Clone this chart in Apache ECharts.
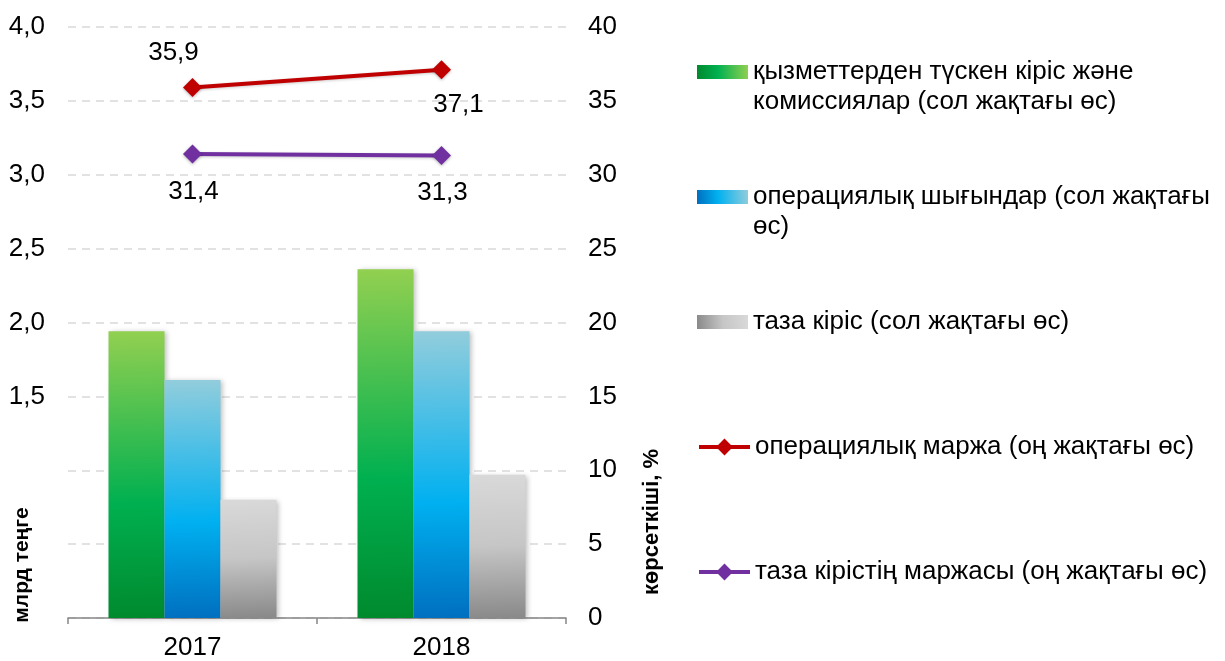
<!DOCTYPE html>
<html>
<head>
<meta charset="utf-8">
<script src="https://cdn.jsdelivr.net/npm/echarts@6/dist/echarts.min.js"></script>
<style>
  html, body { margin: 0; padding: 0; background: #fff; }
  #chart { width: 1225px; height: 661px; }
</style>
</head>
<body>
<div id="chart"></div>
<script>
// Categories (years)
const years = ["2017", "2018"];

// Left axis series, billion tenge
const feeIncome = [1.94, 2.36];
const opExpenses = [1.61, 1.94];
const netIncome = [0.80, 0.97];

// Right axis series, %
const opMargin = [35.9, 37.1];
const netMargin = [31.4, 31.3];

// Tick labels (left axis has no labels below 1,5 in the original)
const leftTickLabels = ["", "", "", "1,5", "2,0", "2,5", "3,0", "3,5", "4,0"];
const rightTickLabels = ["0", "5", "10", "15", "20", "25", "30", "35", "40"];

// Series names (legend text)
const names = [
  "қызметтерден түскен кіріс және\nкомиссиялар (сол жақтағы өс)",
  "операциялық шығындар (сол жақтағы\nөс)",
  "таза кіріс (сол жақтағы өс)",
  "операциялық маржа (оң жақтағы өс)",
  "таза кірістің маржасы (оң жақтағы өс)",
];

const FONT = "'Liberation Sans', Arial, sans-serif";
const FS = 26;

// Vertical gradient for bars, horizontal one for legend swatches
const vGrad = (stops) => ({
  type: "linear", x: 0, y: 0, x2: 0.08, y2: 1,
  colorStops: stops.map((c) => ({ offset: c[0], color: c[1] })),
});
const hGrad = (stops) => ({
  type: "linear", x: 1, y: 0, x2: 0, y2: 0.3,
  colorStops: stops.map((c) => ({ offset: c[0], color: c[1] })),
});

const greenStops = [[0, "#92D050"], [0.6, "#00B050"], [1, "#008A2E"]];
const blueStops = [[0, "#92CDDC"], [0.6, "#00B0F0"], [1, "#0070C0"]];
const grayStops = [[0, "#D9D9D9"], [0.5, "#C6C6C6"], [1, "#8A8A8A"]];

const fmt = (v) => String(v).replace(".", ",");

const barShadow = {
  shadowBlur: 5,
  shadowColor: "rgba(0,0,0,0.25)",
  shadowOffsetX: 2,
  shadowOffsetY: 1,
};

// One legend block per item so every icon lands at its own row.
// Two-line names get an empty first line so the icon sits beside line one.
const legendIconY = [72, 197, 322, 447, 572];
const legends = names.map((n, i) => {
  const isBar = i < 3;
  const twoLines = n.indexOf("\n") >= 0;
  const stops = [greenStops, blueStops, grayStops][i];
  return {
    left: 697,
    top: legendIconY[i] - (twoLines ? 45 : 15),
    padding: 0,
    orient: "vertical",
    itemWidth: 51,
    itemHeight: isBar ? 14 : 21,
    icon: isBar ? "rect" : undefined,
    selectedMode: false,
    formatter: twoLines ? (name) => "\n" + name : undefined,
    lineStyle: { width: 4 },
    textStyle: {
      fontFamily: FONT,
      fontSize: FS,
      color: "#000",
      lineHeight: 30,
    },
    data: [
      isBar
        ? { name: n, itemStyle: { color: hGrad(stops) } }
        : { name: n },
    ],
  };
});

const chart = echarts.init(document.getElementById("chart"), null, { renderer: "canvas" });

chart.setOption({
  animation: false,
  backgroundColor: "#fff",
  textStyle: { fontFamily: FONT },
  grid: { left: 68, right: 659, top: 27, bottom: 42 },
  legend: legends,
  xAxis: {
    type: "category",
    data: years,
    axisLine: { lineStyle: { color: "#868686", width: 1.5 } },
    axisTick: { show: true, length: 6, lineStyle: { color: "#868686", width: 1.5 } },
    axisLabel: { fontFamily: FONT, fontSize: FS, color: "#000", margin: 17 },
  },
  yAxis: [
    {
      type: "value",
      min: 0,
      max: 4,
      interval: 0.5,
      axisLine: { show: false },
      axisTick: { show: false },
      splitLine: { lineStyle: { color: "#D9D9D9", type: [8, 6], width: 1.5 } },
      axisLabel: {
        fontFamily: FONT,
        fontSize: FS,
        color: "#000",
        margin: 23,
        formatter: (v) => leftTickLabels[Math.round(v / 0.5)] || "",
      },
    },
    {
      type: "value",
      min: 0,
      max: 40,
      interval: 5,
      axisLine: { show: false },
      axisTick: { show: false },
      splitLine: { show: false },
      axisLabel: {
        fontFamily: FONT,
        fontSize: FS,
        color: "#000",
        margin: 22,
        formatter: (v) => rightTickLabels[Math.round(v / 5)] || "",
      },
    },
  ],
  graphic: [
    {
      type: "text",
      x: 22,
      y: 565,
      rotation: Math.PI / 2,
      style: {
        text: "млрд теңге",
        fontFamily: FONT,
        fontSize: 21,
        fontWeight: "bold",
        fill: "#000",
        align: "center",
        verticalAlign: "middle",
      },
    },
    {
      type: "text",
      x: 652,
      y: 522,
      rotation: Math.PI / 2,
      style: {
        text: "көрсеткіші, %",
        fontFamily: FONT,
        fontSize: 22,
        fontWeight: "bold",
        fill: "#000",
        align: "center",
        verticalAlign: "middle",
      },
    },
  ],
  series: [
    {
      name: names[0],
      type: "bar",
      data: feeIncome,
      barWidth: 56,
      barGap: "0%",
      itemStyle: Object.assign({ color: vGrad(greenStops) }, barShadow),
    },
    {
      name: names[1],
      type: "bar",
      data: opExpenses,
      barWidth: 56,
      barGap: "0%",
      itemStyle: Object.assign({ color: vGrad(blueStops) }, barShadow),
    },
    {
      name: names[2],
      type: "bar",
      data: netIncome,
      barWidth: 56,
      barGap: "0%",
      itemStyle: Object.assign({ color: vGrad(grayStops) }, barShadow),
    },
    {
      name: names[3],
      type: "line",
      yAxisIndex: 1,
      symbol: "diamond",
      symbolSize: 19,
      z: 5,
      lineStyle: { color: "#C00000", width: 4, shadowBlur: 3, shadowColor: "rgba(0,0,0,0.2)", shadowOffsetY: 1 },
      itemStyle: { color: "#C00000", shadowBlur: 3, shadowColor: "rgba(0,0,0,0.3)", shadowOffsetY: 1 },
      label: {
        show: true,
        fontFamily: FONT,
        fontSize: FS,
        color: "#000",
        formatter: (p) => fmt(p.value),
      },
      data: opMargin.map((v, i) => ({
        value: v,
        label: i === 0
          ? { position: "top", offset: [-19, -7] }
          : { position: "bottom", offset: [17, 7] },
      })),
    },
    {
      name: names[4],
      type: "line",
      yAxisIndex: 1,
      symbol: "diamond",
      symbolSize: 19,
      z: 5,
      lineStyle: { color: "#7030A0", width: 4, shadowBlur: 3, shadowColor: "rgba(0,0,0,0.2)", shadowOffsetY: 1 },
      itemStyle: { color: "#7030A0", shadowBlur: 3, shadowColor: "rgba(0,0,0,0.3)", shadowOffsetY: 1 },
      label: {
        show: true,
        position: "bottom",
        offset: [1, 10],
        fontFamily: FONT,
        fontSize: FS,
        color: "#000",
        formatter: (p) => fmt(p.value),
      },
      data: netMargin,
    },
  ],
});
</script>
</body>
</html>
